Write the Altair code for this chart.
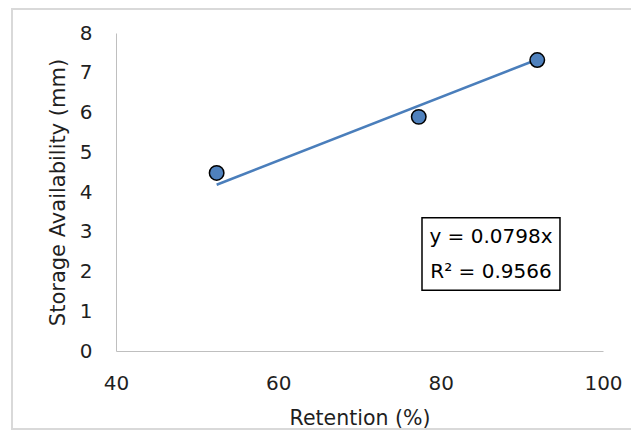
import altair as alt
import pandas as pd

# data
retention = [52.4, 77.3, 91.9]
storage = [4.48, 5.89, 7.32]
slope = 0.0798
eq_lines = ["y = 0.0798x", "R\u00b2 = 0.9566"]
x_ticks = [40, 60, 80, 100]
y_ticks = [0, 1, 2, 3, 4, 5, 6, 7, 8]

FONT = "DejaVu Sans"
LABEL_COLOR = "#1f1f1f"

pts = pd.DataFrame({"x": retention, "y": storage})
trend = pd.DataFrame({"x": [min(retention), max(retention)]})
trend["y"] = trend["x"] * slope

xs = alt.Scale(domain=[40, 100], nice=False, zero=False)
ys = alt.Scale(domain=[0, 8], nice=False)

x_axis = alt.Axis(values=x_ticks, grid=False, ticks=False, domainColor="#bfbfbf",
                  labelFlush=False, labelOverlap=False,
                  labelPadding=22, labelFont=FONT, labelFontSize=20, labelColor=LABEL_COLOR,
                  title="Retention (%)", titleFont=FONT, titleFontSize=20.5, titleFontWeight="normal",
                  titleColor=LABEL_COLOR, titleY=73, titleBaseline="alphabetic")
y_axis = alt.Axis(values=y_ticks, grid=False, ticks=False, domainColor="#bfbfbf",
                  labelFlush=False, labelOverlap=False,
                  labelPadding=24, labelFont=FONT, labelFontSize=20, labelColor=LABEL_COLOR,
                  title="Storage Availability  (mm)", titleFont=FONT, titleFontSize=21,
                  titleFontWeight="normal", titleColor=LABEL_COLOR, titleX=-52,
                  titleBaseline="alphabetic")


def X(field):
    return alt.X(field, type="quantitative", scale=xs, axis=x_axis)


def Y(field):
    return alt.Y(field, type="quantitative", scale=ys, axis=y_axis)


frame = alt.Chart(pd.DataFrame({"a": [0]})).mark_rect(
    fill=None, stroke="#d9d9d9", strokeWidth=2
).encode(x=alt.value(-104), x2=alt.value(540), y=alt.value(-24), y2=alt.value(396))

line = alt.Chart(trend).mark_line(color="#4a7ebb", strokeWidth=2.5).encode(x=X("x"), y=Y("y"))

points = alt.Chart(pts).mark_point(
    filled=True, fill="#4f81bd", stroke="black", strokeWidth=1.5, size=210, opacity=1, shape="circle"
).encode(x=X("x"), y=Y("y"))

box = alt.Chart(pd.DataFrame({"x1": [77.7], "x2": [94.7], "y1": [1.53], "y2": [3.35]})).mark_rect(
    fill="white", stroke="black", strokeWidth=1.5
).encode(x=X("x1"), x2="x2:Q", y=Y("y1"), y2="y2:Q")

eq = alt.Chart(pd.DataFrame({"t": eq_lines, "x": [86.2, 86.2], "y": [2.88, 1.99]})).mark_text(
    font=FONT, fontSize=20, color="black", baseline="middle", align="center"
).encode(x=X("x"), y=Y("y"), text="t:N")

chart = alt.layer(frame, line, points, box, eq).properties(
    width=487, height=318,
    padding={"left": 108, "top": 25, "right": 28, "bottom": 79},
    autosize=alt.AutoSizeParams(type="none"),
    background="white",
).configure_view(stroke="transparent")

chart.save("out.html", embed_options={"renderer": "svg", "actions": False})
